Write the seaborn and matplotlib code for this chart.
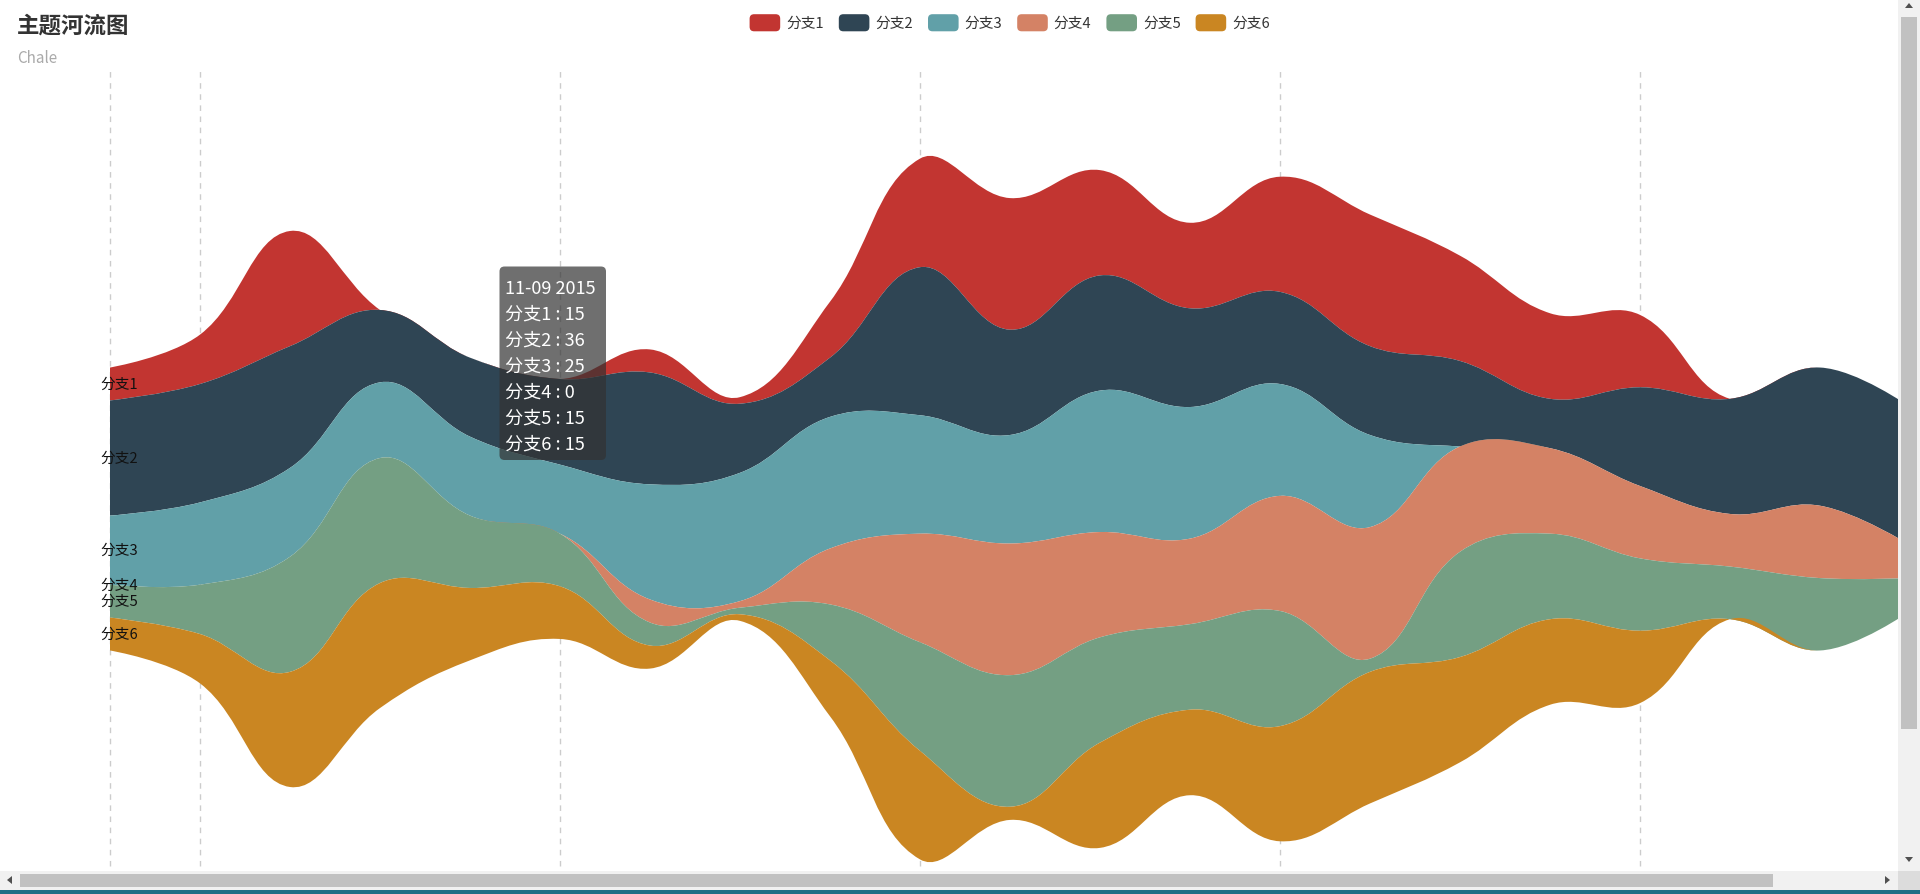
import numpy as np
import pandas as pd
import matplotlib
matplotlib.use("Agg")
import matplotlib.pyplot as plt
from matplotlib.path import Path
from matplotlib.patches import PathPatch, FancyBboxPatch, Rectangle, Polygon
import seaborn as sns

# ---------------- data ----------------
dates = pd.date_range("2015-11-08", "2015-11-28", freq="D")
series_names = ["分支1", "分支2", "分支3", "分支4", "分支5", "分支6"]
branch1 = [10, 15, 35, 0, 0, 0, 7, 2, 17, 33, 40, 32, 26, 35, 40, 32, 26, 22, 0, 0, 0]
branch2 = [35, 36, 37, 22, 24, 26, 34, 21, 18, 45, 32, 35, 30, 28, 27, 26, 15, 30, 35, 42, 42]
branch3 = [21, 25, 27, 23, 24, 21, 35, 39, 40, 36, 33, 43, 40, 34, 28, 0, 0, 0, 0, 0, 0]
branch4 = [0, 0, 0, 0, 0, 0, 7, 2, 17, 33, 40, 32, 26, 35, 40, 32, 26, 22, 16, 22, 10]
branch5 = [10, 15, 35, 38, 22, 16, 7, 2, 17, 33, 40, 32, 26, 35, 4, 32, 26, 22, 16, 22, 10]
branch6 = [10, 15, 35, 38, 22, 16, 7, 2, 17, 33, 4, 32, 26, 35, 40, 32, 26, 22, 0, 0, 0]
colors = ["#c23531", "#2f4554", "#61a0a8", "#d48265", "#749f83", "#ca8622"]
grid_dates = ["2015-11-08", "2015-11-09", "2015-11-13", "2015-11-17", "2015-11-21", "2015-11-25"]
title_text = "主题河流图"
subtitle_text = "Chale"
tooltip_date = "2015-11-09"

# ---------------- style ----------------
sns.set_theme(style="white")
plt.rcParams['font.family'] = ['Noto Sans CJK SC', 'DejaVu Sans']
palette = sns.color_palette(colors)

W, H = 1920, 895
PT = 0.72  # px -> pt at dpi 100
fig = plt.figure(figsize=(W / 100, H / 100), dpi=100)
fig.patch.set_facecolor("white")

X0, DX = 110.0, 90.0       # pixel position of first day, pixels per day
YC, SY = 510.0, 3.29       # pixel (from top) of river centre, pixels per unit
ax = fig.add_axes([0, 0, 1, 1])
ax.set_xlim(-X0 / DX, (W - X0) / DX)
ax.set_ylim(-(H - YC) / SY, YC / SY)
ax.axis("off")

x = np.array((dates - dates[0]).days, dtype=float)
V = np.array([branch1, branch2, branch3, branch4, branch5, branch6], dtype=float)
total = V.sum(axis=0)
cum = np.vstack([np.zeros_like(total), np.cumsum(V, axis=0)])
bounds = total / 2 - cum  # bounds[k] = upper edge of series k


def ctrl_points(xs, ys, smooth=0.4):
    P = np.column_stack([xs * DX, ys * SY])
    n = len(P)
    cin = P.copy()
    cout = P.copy()
    for i in range(1, n - 1):
        prev, nxt = P[i - 1], P[i + 1]
        v = (nxt - prev) * smooth
        d0 = np.hypot(*(P[i] - prev))
        d1 = np.hypot(*(P[i] - nxt))
        s = d0 + d1
        if s > 0:
            d0 /= s
            d1 /= s
        cin[i] = P[i] - v * d0
        cout[i] = P[i] + v * d1
    sc = np.array([DX, SY])
    return P / sc, cin / sc, cout / sc


# grid lines (behind river)
grid_x = [(pd.Timestamp(d) - dates[0]).days for d in grid_dates]
for gx in grid_x:
    ax.axvline(gx, ymin=(H - 867) / H, ymax=(H - 71) / H, color="#cccccc",
               lw=1.0, ls=(0, (4, 4)), zorder=1)

n = len(x)
for k in range(len(series_names)):
    U, Uin, Uout = ctrl_points(x, bounds[k])
    L, Lin, Lout = ctrl_points(x, bounds[k + 1])
    verts = [tuple(U[0])]
    codes = [Path.MOVETO]
    for j in range(n - 1):
        verts += [tuple(Uout[j]), tuple(Uin[j + 1]), tuple(U[j + 1])]
        codes += [Path.CURVE4] * 3
    verts.append(tuple(L[n - 1]))
    codes.append(Path.LINETO)
    for j in range(n - 1, 0, -1):
        verts += [tuple(Lin[j]), tuple(Lout[j - 1]), tuple(L[j - 1])]
        codes += [Path.CURVE4] * 3
    verts.append(tuple(U[0]))
    codes.append(Path.CLOSEPOLY)
    ax.add_patch(PathPatch(Path(verts, codes), facecolor=palette[k],
                           edgecolor="none", lw=0, zorder=2))

# series labels at the start of the river
for k, name in enumerate(series_names):
    ymid = (bounds[k][0] + bounds[k + 1][0]) / 2
    ax.text(-10 / DX, ymid, name, ha="left", va="center", fontsize=14.7 * PT,
            color="#111111", zorder=5)

# ---------------- title ----------------
fig.text(17 / W, 1 - 26 / H, title_text, ha="left", va="center",
         fontsize=22.5 * PT, fontweight="bold", color="#333333")
fig.text(17 / W, 1 - 58.5 / H, subtitle_text, ha="left", va="center",
         fontsize=15.2 * PT, color="#aaaaaa")

# ---------------- legend ----------------
lx0, lstep, lw_, lh_, ltop = 749.6, 89.2, 30.6, 17.1, 15.2
for k, name in enumerate(series_names):
    xl = lx0 + k * lstep
    fig.add_artist(FancyBboxPatch((xl, H - ltop - lh_), lw_, lh_,
                                  boxstyle="round,pad=0,rounding_size=4.5",
                                  transform=None, facecolor=palette[k],
                                  edgecolor="none"))
    fig.text((xl + lw_ + 6) / W, 1 - (ltop + lh_ / 2 + 0.5) / H, name, ha="left",
             va="center", fontsize=14.7 * PT, color="#333333")

# ---------------- tooltip ----------------
ti = int((pd.Timestamp(tooltip_date) - dates[0]).days)
tx0, ty0, tx1, ty1 = 499.5, 267.5, 606.0, 461.0
fig.add_artist(FancyBboxPatch((tx0, H - ty1), tx1 - tx0, ty1 - ty0,
                              boxstyle="round,pad=0,rounding_size=5",
                              transform=None, facecolor=(50 / 255, 50 / 255, 50 / 255, 0.7),
                              edgecolor="none", zorder=10))
lines = [dates[ti].strftime("%m-%d %Y")] + [
    f"{nm} : {int(V[k][ti])}" for k, nm in enumerate(series_names)]
for i, s in enumerate(lines):
    fig.text(505 / W, 1 - (288.5 + 26 * i) / H, s, ha="left", va="center",
             fontsize=18.2 * PT, color="white", zorder=11)

# ---------------- browser scrollbars (screenshot frame) ----------------
def rect(x, y, w, h, c):
    fig.add_artist(Rectangle((x, H - y - h), w, h, transform=None,
                             facecolor=c, edgecolor="none", zorder=20))


def tri(pts, c="#505050"):
    fig.add_artist(Polygon([(px, H - py) for px, py in pts], closed=True,
                           transform=None, facecolor=c, edgecolor="none",
                           zorder=21))


rect(1898, 0, 22, 872, "#f1f1f1")
rect(1901, 18, 16, 712, "#c1c1c1")
tri([(1905, 9), (1913, 9), (1909, 4)])
tri([(1905, 858), (1913, 858), (1909, 863)])
rect(0, 872, 1898, 19, "#f1f1f1")
rect(20, 875, 1753, 13, "#c1c1c1")
tri([(12, 877), (12, 885), (7, 881)])
tri([(1885, 877), (1885, 885), (1890, 881)])
rect(1898, 872, 22, 19, "#dcdcdc")
rect(0, 891, 1920, 4, "#1d6f86")

fig.savefig("out.png", dpi=100, facecolor="white")
